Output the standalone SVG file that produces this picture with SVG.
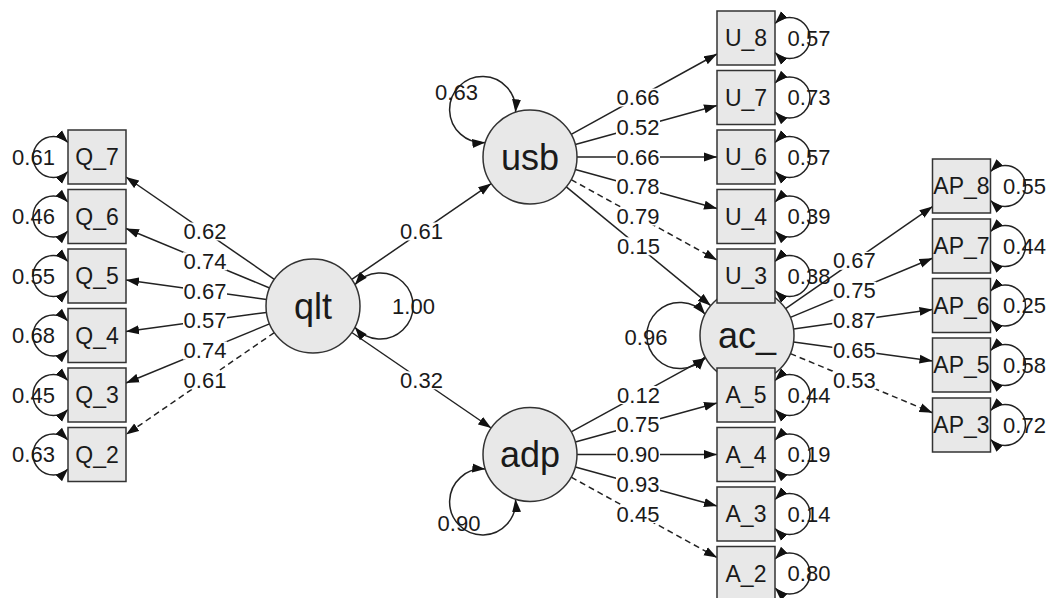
<svg xmlns="http://www.w3.org/2000/svg" width="1051" height="598" viewBox="0 0 1051 598">
  <style>
    .lat { fill: #e8e8e8; stroke: #333; stroke-width: 1.5; }
    .man { fill: #e8e8e8; stroke: #333; stroke-width: 1.5; }
    .e { stroke: #222; stroke-width: 1.5; fill: none; marker-end: url(#ah); }
    .d { stroke-dasharray: 6 4; }
    .loop { stroke: #222; stroke-width: 1.5; fill: none; marker-start: url(#ah); marker-end: url(#ah); }
    text { font-family: "Liberation Sans", Arial, sans-serif; fill: #1a1a1a; text-anchor: middle; dominant-baseline: central; }
    .t { font-size: 22px; }
    .n { font-size: 23px; }
    .big { font-size: 36px; }
    .bg { fill: #fff; }
  </style>
  <defs>
    <marker id="ah" viewBox="0 0 13 10" refX="13" refY="5" markerWidth="13" markerHeight="10" markerUnits="userSpaceOnUse" orient="auto-start-reverse">
      <path d="M0,0.5 L13,5 L0,9.5 z" fill="#111"/>
    </marker>
  </defs>

  <g id="connectors">
    <!-- qlt loadings -->
    <line class="e" x1="274.3" y1="279.3" x2="126" y2="177.0"/>
    <line class="e" x1="269.6" y1="288.0" x2="126" y2="228.5"/>
    <line class="e" x1="266.5" y1="299.5" x2="126" y2="280.0"/>
    <line class="e" x1="266.4" y1="312.4" x2="126" y2="331.5"/>
    <line class="e" x1="269.5" y1="323.9" x2="126" y2="383.0"/>
    <line class="e d" x1="274.3" y1="332.6" x2="126" y2="434.6"/>
    <!-- structural paths -->
    <line class="e" x1="351.8" y1="279.4" x2="491.2" y2="183.6"/>
    <line class="e" x1="351.8" y1="332.5" x2="491.2" y2="428.0"/>
    <line class="e" x1="566.3" y1="186.9" x2="710.7" y2="305.6"/>
    <line class="e" x1="571.2" y1="431.9" x2="705.8" y2="358.1"/>
    <!-- usb loadings -->
    <line class="e" x1="571.2" y1="134.3" x2="717" y2="54.0"/>
    <line class="e" x1="575.3" y1="144.5" x2="717" y2="105.5"/>
    <line class="e" x1="577" y1="157" x2="717" y2="157"/>
    <line class="e" x1="575.3" y1="169.5" x2="717" y2="208.5"/>
    <line class="e d" x1="571.2" y1="179.7" x2="717" y2="260.0"/>
    <!-- adp loadings -->
    <line class="e" x1="575.3" y1="442.0" x2="717" y2="403.0"/>
    <line class="e" x1="577" y1="454.5" x2="717" y2="454.5"/>
    <line class="e" x1="575.3" y1="467.0" x2="717" y2="506.0"/>
    <line class="e d" x1="571.2" y1="477.2" x2="717" y2="557.5"/>
    <!-- ac_ loadings -->
    <line class="e" x1="785.6" y1="308.6" x2="932.5" y2="206.6"/>
    <line class="e" x1="790.4" y1="317.4" x2="932.5" y2="258.3"/>
    <line class="e" x1="793.5" y1="329.0" x2="932.5" y2="309.6"/>
    <line class="e" x1="793.6" y1="341.9" x2="932.5" y2="360.9"/>
    <line class="e d" x1="790.4" y1="353.6" x2="932.5" y2="412.7"/>

    <!-- residual variances, indicators -->
    <path class="loop" d="M68,142.5 A20.5,20.5 0 1 0 68,171.5"/>
    <path class="loop" d="M68,202 A20.5,20.5 0 1 0 68,231"/>
    <path class="loop" d="M68,261.5 A20.5,20.5 0 1 0 68,290.5"/>
    <path class="loop" d="M68,321 A20.5,20.5 0 1 0 68,350"/>
    <path class="loop" d="M68,380.5 A20.5,20.5 0 1 0 68,409.5"/>
    <path class="loop" d="M68,440 A20.5,20.5 0 1 0 68,469"/>

    <path class="loop" d="M775,23.5 A20.5,20.5 0 1 1 775,52.5"/>
    <path class="loop" d="M775,83 A20.5,20.5 0 1 1 775,112"/>
    <path class="loop" d="M775,142.5 A20.5,20.5 0 1 1 775,171.5"/>
    <path class="loop" d="M775,202 A20.5,20.5 0 1 1 775,231"/>
    <path class="loop" d="M775,261.5 A20.5,20.5 0 1 1 775,290.5"/>

    <path class="loop" d="M775,380.5 A20.5,20.5 0 1 1 775,409.5"/>
    <path class="loop" d="M775,440 A20.5,20.5 0 1 1 775,469"/>
    <path class="loop" d="M775,499.5 A20.5,20.5 0 1 1 775,528.5"/>
    <path class="loop" d="M775,559 A20.5,20.5 0 1 1 775,588"/>

    <path class="loop" d="M990.5,171.5 A20.5,20.5 0 1 1 990.5,200.5"/>
    <path class="loop" d="M990.5,231.5 A20.5,20.5 0 1 1 990.5,260.5"/>
    <path class="loop" d="M990.5,291 A20.5,20.5 0 1 1 990.5,320"/>
    <path class="loop" d="M990.5,350.5 A20.5,20.5 0 1 1 990.5,379.5"/>
    <path class="loop" d="M990.5,410.5 A20.5,20.5 0 1 1 990.5,439.5"/>

    <!-- residual variances, latents -->
    <path class="loop" d="M354.9,284.7 A33,33 0 1 1 354.9,327.3"/>
    <path class="loop" d="M485.3,142.5 A33,33 0 1 1 515.5,112.3"/>
    <path class="loop" d="M515.5,499.2 A33,33 0 1 1 485.3,469.0"/>
    <path class="loop" d="M705.1,356.8 A33,33 0 1 1 705.1,314.2"/>

    <!-- path coefficients -->
    <g>
      <rect class="bg" x="183" y="222.5" width="44" height="18"/><text class="t" x="205" y="231.5">0.62</text>
      <rect class="bg" x="183" y="252.3" width="44" height="18"/><text class="t" x="205" y="261.3">0.74</text>
      <rect class="bg" x="183" y="282" width="44" height="18"/><text class="t" x="205" y="291">0.67</text>
      <rect class="bg" x="183" y="311.8" width="44" height="18"/><text class="t" x="205" y="320.8">0.57</text>
      <rect class="bg" x="183" y="341.5" width="44" height="18"/><text class="t" x="205" y="350.5">0.74</text>
      <rect class="bg" x="183" y="371.3" width="44" height="18"/><text class="t" x="205" y="380.3">0.61</text>

      <rect class="bg" x="399.5" y="222.5" width="44" height="18"/><text class="t" x="421.5" y="231.5">0.61</text>
      <rect class="bg" x="399.5" y="371.3" width="44" height="18"/><text class="t" x="421.5" y="380.3">0.32</text>

      <rect class="bg" x="616" y="88.5" width="44" height="18"/><text class="t" x="638" y="97.5">0.66</text>
      <rect class="bg" x="616" y="118.3" width="44" height="18"/><text class="t" x="638" y="127.3">0.52</text>
      <rect class="bg" x="616" y="148" width="44" height="18"/><text class="t" x="638" y="157">0.66</text>
      <rect class="bg" x="616" y="177.8" width="44" height="18"/><text class="t" x="638" y="186.8">0.78</text>
      <rect class="bg" x="616" y="207.5" width="44" height="18"/><text class="t" x="638" y="216.5">0.79</text>
      <rect class="bg" x="616.5" y="237.3" width="44" height="18"/><text class="t" x="638.5" y="246.3">0.15</text>

      <rect class="bg" x="616.5" y="386" width="44" height="18"/><text class="t" x="638.5" y="395">0.12</text>
      <rect class="bg" x="616" y="415.8" width="44" height="18"/><text class="t" x="638" y="424.8">0.75</text>
      <rect class="bg" x="616" y="445.5" width="44" height="18"/><text class="t" x="638" y="454.5">0.90</text>
      <rect class="bg" x="616" y="475.3" width="44" height="18"/><text class="t" x="638" y="484.3">0.93</text>
      <rect class="bg" x="616" y="505" width="44" height="18"/><text class="t" x="638" y="514">0.45</text>

      <rect class="bg" x="832.3" y="251.8" width="44" height="18"/><text class="t" x="854.3" y="260.8">0.67</text>
      <rect class="bg" x="832.3" y="281.8" width="44" height="18"/><text class="t" x="854.3" y="290.8">0.75</text>
      <rect class="bg" x="832.3" y="311.5" width="44" height="18"/><text class="t" x="854.3" y="320.5">0.87</text>
      <rect class="bg" x="832.3" y="341.3" width="44" height="18"/><text class="t" x="854.3" y="350.3">0.65</text>
      <rect class="bg" x="832.3" y="371.3" width="44" height="18"/><text class="t" x="854.3" y="380.3">0.53</text>
    </g>

    <!-- variance values -->
    <g>
      <text class="t" x="33.5" y="157">0.61</text>
      <text class="t" x="33.5" y="216.5">0.46</text>
      <text class="t" x="33.5" y="276">0.55</text>
      <text class="t" x="33.5" y="335.5">0.68</text>
      <text class="t" x="33.5" y="395">0.45</text>
      <text class="t" x="33.5" y="454.5">0.63</text>

      <text class="t" x="809" y="38">0.57</text>
      <text class="t" x="809" y="97.5">0.73</text>
      <text class="t" x="809" y="157">0.57</text>
      <text class="t" x="809" y="216.5">0.39</text>
      <text class="t" x="809" y="276">0.38</text>

      <text class="t" x="809" y="395">0.44</text>
      <text class="t" x="809" y="454.5">0.19</text>
      <text class="t" x="809" y="514">0.14</text>
      <text class="t" x="809" y="573.5">0.80</text>

      <text class="t" x="1024.5" y="186">0.55</text>
      <text class="t" x="1024.5" y="246">0.44</text>
      <text class="t" x="1024.5" y="305.5">0.25</text>
      <text class="t" x="1024.5" y="365">0.58</text>
      <text class="t" x="1024.5" y="425">0.72</text>

      <text class="t" x="413.5" y="306">1.00</text>
      <text class="t" x="456.5" y="92">0.63</text>
      <text class="t" x="459" y="523">0.90</text>
      <text class="t" x="646" y="337">0.96</text>
    </g>
  </g>

  <!-- latent variables -->
  <g id="node-ac_"><circle class="lat" cx="747" cy="335.5" r="47"/><text class="big" x="747" y="335.5">ac_</text></g>
  <g id="node-qlt"><circle class="lat" cx="313" cy="306" r="47"/><text class="big" x="313" y="306">qlt</text></g>
  <g id="node-usb"><circle class="lat" cx="530" cy="157" r="47"/><text class="big" x="530" y="157">usb</text></g>
  <g id="node-adp"><circle class="lat" cx="530" cy="454.5" r="47"/><text class="big" x="530" y="454.5">adp</text></g>

  <!-- quality indicators -->
  <g id="node-Q_7"><rect class="man" x="68" y="130" width="58" height="54"/><text class="n" x="97" y="157">Q_7</text></g>
  <g id="node-Q_6"><rect class="man" x="68" y="189.5" width="58" height="54"/><text class="n" x="97" y="216.5">Q_6</text></g>
  <g id="node-Q_5"><rect class="man" x="68" y="249" width="58" height="54"/><text class="n" x="97" y="276">Q_5</text></g>
  <g id="node-Q_4"><rect class="man" x="68" y="308.5" width="58" height="54"/><text class="n" x="97" y="335.5">Q_4</text></g>
  <g id="node-Q_3"><rect class="man" x="68" y="368" width="58" height="54"/><text class="n" x="97" y="395">Q_3</text></g>
  <g id="node-Q_2"><rect class="man" x="68" y="427.5" width="58" height="54"/><text class="n" x="97" y="454.5">Q_2</text></g>

  <!-- usability indicators -->
  <g id="node-U_8"><rect class="man" x="717" y="11" width="58" height="54"/><text class="n" x="746" y="38">U_8</text></g>
  <g id="node-U_7"><rect class="man" x="717" y="70.5" width="58" height="54"/><text class="n" x="746" y="97.5">U_7</text></g>
  <g id="node-U_6"><rect class="man" x="717" y="130" width="58" height="54"/><text class="n" x="746" y="157">U_6</text></g>
  <g id="node-U_4"><rect class="man" x="717" y="189.5" width="58" height="54"/><text class="n" x="746" y="216.5">U_4</text></g>
  <g id="node-U_3"><rect class="man" x="717" y="249" width="58" height="54"/><text class="n" x="746" y="276">U_3</text></g>

  <!-- adoption indicators -->
  <g id="node-A_5"><rect class="man" x="717" y="368" width="58" height="54"/><text class="n" x="746" y="395">A_5</text></g>
  <g id="node-A_4"><rect class="man" x="717" y="427.5" width="58" height="54"/><text class="n" x="746" y="454.5">A_4</text></g>
  <g id="node-A_3"><rect class="man" x="717" y="487" width="58" height="54"/><text class="n" x="746" y="514">A_3</text></g>
  <g id="node-A_2"><rect class="man" x="717" y="546.5" width="58" height="54"/><text class="n" x="746" y="573.5">A_2</text></g>

  <!-- ac_ indicators -->
  <g id="node-AP_8"><rect class="man" x="932.5" y="159" width="58" height="54"/><text class="n" x="961.5" y="186">AP_8</text></g>
  <g id="node-AP_7"><rect class="man" x="932.5" y="219" width="58" height="54"/><text class="n" x="961.5" y="246">AP_7</text></g>
  <g id="node-AP_6"><rect class="man" x="932.5" y="278.5" width="58" height="54"/><text class="n" x="961.5" y="305.5">AP_6</text></g>
  <g id="node-AP_5"><rect class="man" x="932.5" y="338" width="58" height="54"/><text class="n" x="961.5" y="365">AP_5</text></g>
  <g id="node-AP_3"><rect class="man" x="932.5" y="398" width="58" height="54"/><text class="n" x="961.5" y="425">AP_3</text></g>
</svg>
